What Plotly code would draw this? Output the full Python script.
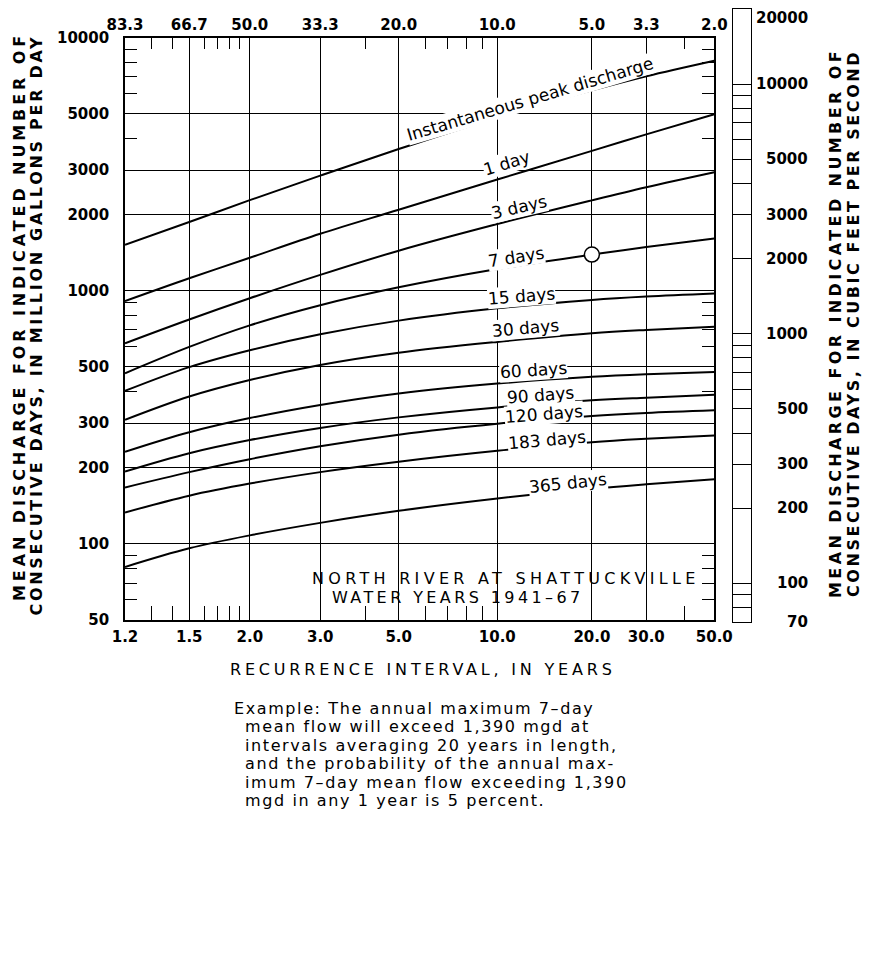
import numpy as np
import plotly.graph_objects as go

# ---------------- data ----------------
RECURRENCE_T = [1.2, 1.5, 2.0, 3.0, 5.0, 10.0, 20.0, 30.0, 50.0]

INST_PEAK = [1520, 1870, 2280, 2850, 3630, 4840, 6190, 7040, 8110]
DAY_1 = [910, 1120, 1350, 1680, 2090, 2750, 3570, 4150, 4980]
DAYS_3 = [620, 770, 934, 1155, 1440, 1835, 2276, 2564, 2940]
DAYS_7 = [472, 600, 730, 877, 1032, 1219, 1390, 1488, 1608]
DAYS_15 = [402, 499, 582, 673, 762, 852, 920, 949, 976]
DAYS_30 = [309, 382, 444, 509, 569, 628, 679, 700, 721]
DAYS_60 = [231, 276, 314, 354, 393, 430, 457, 468, 478]
DAYS_90 = [193, 228, 257, 287, 316, 346, 369, 378, 388]
DAYS_120 = [167, 192, 216, 243, 270, 298, 320, 329, 337]
DAYS_183 = [133, 155, 173, 192, 211, 233, 252, 260, 268]
DAYS_365 = [81, 96, 108, 121, 135, 151, 165, 172, 180]

CURVE_NAMES = ["Instantaneous peak discharge", "1 day", "3 days", "7 days",
               "15 days", "30 days", "60 days", "90 days", "120 days",
               "183 days", "365 days"]
CURVE_VALUES = [INST_PEAK, DAY_1, DAYS_3, DAYS_7, DAYS_15, DAYS_30, DAYS_60,
                DAYS_90, DAYS_120, DAYS_183, DAYS_365]

EXAMPLE_T = [20.0]
EXAMPLE_Q = [1390]

TICK_T = [1.2, 1.5, 2.0, 3.0, 5.0, 10.0, 20.0, 30.0, 50.0]
TICK_T_TEXT = ["1.2", "1.5", "2.0", "3.0", "5.0", "10.0", "20.0", "30.0", "50.0"]
TICK_P_TEXT = ["83.3", "66.7", "50.0", "33.3", "20.0", "10.0", "5.0", "3.3", "2.0"]
MINOR_T = [1.3, 1.4, 1.6, 1.7, 1.8, 1.9, 4.0, 6.0, 7.0, 8.0, 9.0, 40.0]

Q_TICKS = [50, 100, 200, 300, 500, 1000, 2000, 3000, 5000, 10000]
Q_MINOR = [60, 70, 80, 90, 400, 600, 700, 800, 900, 4000, 6000, 7000, 8000, 9000]

CFS_LINES = [70, 80, 90, 100, 200, 300, 400, 500, 600, 700, 800, 900, 1000,
             2000, 3000, 4000, 5000, 6000, 7000, 8000, 9000, 10000, 20000]
CFS_LABELS = [20000, 10000, 5000, 3000, 2000, 1000, 500, 300, 200, 100, 70]

EXAMPLE_LINES = [
    "Example: The annual maximum 7\u2013day",
    "mean flow will exceed 1,390 mgd at",
    "intervals averaging 20 years in length,",
    "and the probability of the annual max-",
    "imum 7\u2013day mean flow exceeding 1,390",
    "mgd in any 1 year is 5 percent.",
]


def gumbel(t):
    t = np.asarray(t, dtype=float)
    return -np.log(-np.log(1.0 - 1.0 / t))


# ---------------- geometry ----------------
# The figure sits at an 8px offset inside the page (default body margin);
# positions below are given in page pixels and converted.
OFF = 8
W, H = 870, 954
ML, MR, MT, MB = 117, 127, 1, 340
PW = W - ML - MR
PH = H - MT - MB


def px(xp):
    return (xp - OFF - ML) / PW


def py(yp):
    return (H - MB - (yp - OFF)) / PH


def ls(text, spacing):
    return '<span style="letter-spacing:%.2fpx">%s</span>' % (spacing, text)


G_RANGE = [float(gumbel([1.2])[0]), float(gumbel([50.0])[0])]
MAIN_XDOM = [0.0, px(714.3)]
MAIN_YDOM = [py(620.0), py(37.7)]
BAR_XDOM = [px(733.3), 1.0]

TICKFONT = dict(family="DejaVu Sans", size=15, color="black", weight="bold")

fig = go.Figure()

for name, vals in zip(CURVE_NAMES, CURVE_VALUES):
    fig.add_trace(go.Scatter(
        x=gumbel(RECURRENCE_T), y=vals, mode="lines", name=name,
        line=dict(color="black", width=2, shape="spline", smoothing=1.0),
        hoverinfo="skip", showlegend=False))

fig.add_trace(go.Scatter(
    x=gumbel(EXAMPLE_T), y=EXAMPLE_Q, mode="markers",
    marker=dict(symbol="circle", size=15, color="white",
                line=dict(color="black", width=1.5)),
    hoverinfo="skip", showlegend=False))

# empty traces so the extra axes are instantiated
fig.add_trace(go.Scatter(x=[], y=[], xaxis="x2", yaxis="y", showlegend=False))
fig.add_trace(go.Scatter(x=[], y=[], xaxis="x", yaxis="y2", showlegend=False))
fig.add_trace(go.Scatter(x=[], y=[], xaxis="x3", yaxis="y3", showlegend=False))

minor_x = dict(tickvals=list(gumbel(MINOR_T)), ticks="inside", ticklen=14,
               tickwidth=1.3, tickcolor="black", showgrid=False)
minor_x_top = dict(minor_x, ticklen=11)
minor_y = dict(tickvals=Q_MINOR, ticks="inside", ticklen=12, tickwidth=1.3,
               tickcolor="black", showgrid=False)

fig.update_layout(
    width=W, height=H,
    margin=dict(l=ML, r=MR, t=MT, b=MB, autoexpand=False),
    paper_bgcolor="white", plot_bgcolor="white",
    showlegend=False, hovermode=False,
    font=dict(family="DejaVu Sans", color="black"),
    xaxis=dict(domain=MAIN_XDOM, anchor="y", range=G_RANGE,
               tickmode="array", tickvals=list(gumbel(TICK_T)), ticktext=TICK_T_TEXT,
               ticks="inside", ticklen=18, tickwidth=1.3, tickcolor="black",
               showgrid=True, gridcolor="black", gridwidth=1.3,
               showline=True, linecolor="black", linewidth=1.6, mirror=True,
               zeroline=False, tickfont=TICKFONT, ticklabelstandoff=2,
               minor=minor_x, automargin=False, fixedrange=True),
    xaxis2=dict(overlaying="x", side="top", anchor="y", range=G_RANGE,
                tickmode="array", tickvals=list(gumbel(TICK_T)), ticktext=TICK_P_TEXT,
                ticks="inside", ticklen=11, tickwidth=1.3, tickcolor="black",
                showgrid=False, showline=False, zeroline=False,
                tickfont=TICKFONT, ticklabelstandoff=4,
                minor=minor_x_top, automargin=False, fixedrange=True),
    yaxis=dict(domain=MAIN_YDOM, anchor="x", type="log",
               range=[np.log10(50), 4.0],
               tickmode="array", tickvals=Q_TICKS, ticktext=[str(v) for v in Q_TICKS],
               ticks="inside", ticklen=12, tickwidth=1.3, tickcolor="black",
               showgrid=True, gridcolor="black", gridwidth=1.3,
               showline=True, linecolor="black", linewidth=1.6, mirror=True,
               zeroline=False, tickfont=TICKFONT, ticklabelstandoff=11,
               minor=minor_y, automargin=False, fixedrange=True),
    yaxis2=dict(overlaying="y", side="right", anchor="x", type="log",
                range=[np.log10(50), 4.0],
                tickmode="array", tickvals=Q_TICKS, showticklabels=False,
                ticks="inside", ticklen=12, tickwidth=1.3, tickcolor="black",
                showgrid=False, showline=False, zeroline=False,
                minor=minor_y, automargin=False, fixedrange=True),
    xaxis3=dict(domain=BAR_XDOM, anchor="y3", range=[0, 1],
                showgrid=False, showticklabels=False, ticks="",
                showline=True, linecolor="black", linewidth=1.3, mirror=True,
                zeroline=False, automargin=False, fixedrange=True),
    yaxis3=dict(domain=[0, 1], anchor="x3", type="log",
                range=[np.log10(70), np.log10(20000)],
                tickmode="array", tickvals=CFS_LINES, showticklabels=False, ticks="",
                showgrid=True, gridcolor="black", gridwidth=1.2,
                showline=True, linecolor="black", linewidth=1.3, mirror=True,
                zeroline=False, automargin=False, fixedrange=True),
)

# white panel behind the station caption (hides grid lines)
fig.add_shape(type="rect", xref="paper", yref="paper",
              x0=px(300), x1=px(705), y0=py(601), y1=py(545.5),
              fillcolor="white", line=dict(width=0), layer="between")

ann = []

# curve labels
LABEL_PIX = [(530, 99, -16.5), (506.7, 163, -17), (519, 207, -13),
             (515.5, 256.5, -9), (521.7, 296, -4.5), (525.5, 328.3, -5),
             (533.3, 370.5, -4), (540.5, 395, -4.5), (544, 414, -4.5),
             (546.5, 440, -5), (568.3, 483, -6)]
for name, (xp, yp, ang) in zip(CURVE_NAMES, LABEL_PIX):
    ann.append(dict(text=name, xref="paper", yref="paper", x=px(xp), y=py(yp),
                    xanchor="center", yanchor="middle", textangle=ang,
                    showarrow=False, bgcolor="white", borderpad=0,
                    font=dict(family="DejaVu Sans", size=17, color="black")))

# station caption
ann.append(dict(text=ls("NORTH RIVER AT SHATTUCKVILLE", 4.3), xref="paper", yref="paper",
                x=px(310), y=py(578), xanchor="left", yanchor="middle", showarrow=False,
                font=dict(family="DejaVu Sans", size=16, color="black")))
ann.append(dict(text=ls("WATER YEARS 1941\u201367", 3.4), xref="paper", yref="paper",
                x=px(330), y=py(597), xanchor="left", yanchor="middle", showarrow=False,
                font=dict(family="DejaVu Sans", size=16, color="black")))

# bar (cubic feet per second) labels
for v in CFS_LABELS:
    top = v == CFS_LABELS[0]
    ann.append(dict(text=str(v), xref="paper", yref="y3", x=px(810), y=float(np.log10(v)),
                    xanchor="right", yanchor="top" if top else "middle",
                    yshift=2 if top else 0, showarrow=False, font=TICKFONT))

# axis titles
ann.append(dict(text=ls("RECURRENCE INTERVAL, IN YEARS", 3.8), xref="paper", yref="paper",
                x=px(422.5), y=py(669), xanchor="center", yanchor="middle",
                showarrow=False, font=dict(family="DejaVu Sans", size=16, color="black")))

TITLE_FONT = dict(family="DejaVu Sans", size=16, color="black", weight="bold")
ann.append(dict(text=ls("MEAN DISCHARGE FOR INDICATED NUMBER OF", 3.9),
                xref="paper", yref="paper", x=px(19.5), y=py(316.5),
                xanchor="center", yanchor="middle", textangle=-90,
                showarrow=False, font=TITLE_FONT))
ann.append(dict(text=ls("CONSECUTIVE DAYS, IN MILLION GALLONS PER DAY", 2.7),
                xref="paper", yref="paper", x=px(36), y=py(325.5),
                xanchor="center", yanchor="middle", textangle=-90,
                showarrow=False, font=TITLE_FONT))
ann.append(dict(text=ls("MEAN DISCHARGE FOR INDICATED NUMBER OF", 3.4),
                xref="paper", yref="paper", x=px(835.5), y=py(323.5),
                xanchor="center", yanchor="middle", textangle=-90,
                showarrow=False, font=TITLE_FONT))
ann.append(dict(text=ls("CONSECUTIVE DAYS, IN CUBIC FEET PER SECOND", 2.55),
                xref="paper", yref="paper", x=px(853.5), y=py(323.5),
                xanchor="center", yanchor="middle", textangle=-90,
                showarrow=False, font=TITLE_FONT))

# example note
EX_Y = [708, 726.7, 745, 763.7, 782, 800.7]
for i, (line, yp) in enumerate(zip(EXAMPLE_LINES, EX_Y)):
    ann.append(dict(text=ls(line, 1.6), xref="paper", yref="paper",
                    x=px(232 if i == 0 else 243), y=py(yp),
                    xanchor="left", yanchor="middle", showarrow=False,
                    font=dict(family="DejaVu Sans", size=16, color="black")))

fig.update_layout(annotations=ann)

fig.write_html("out.html")
